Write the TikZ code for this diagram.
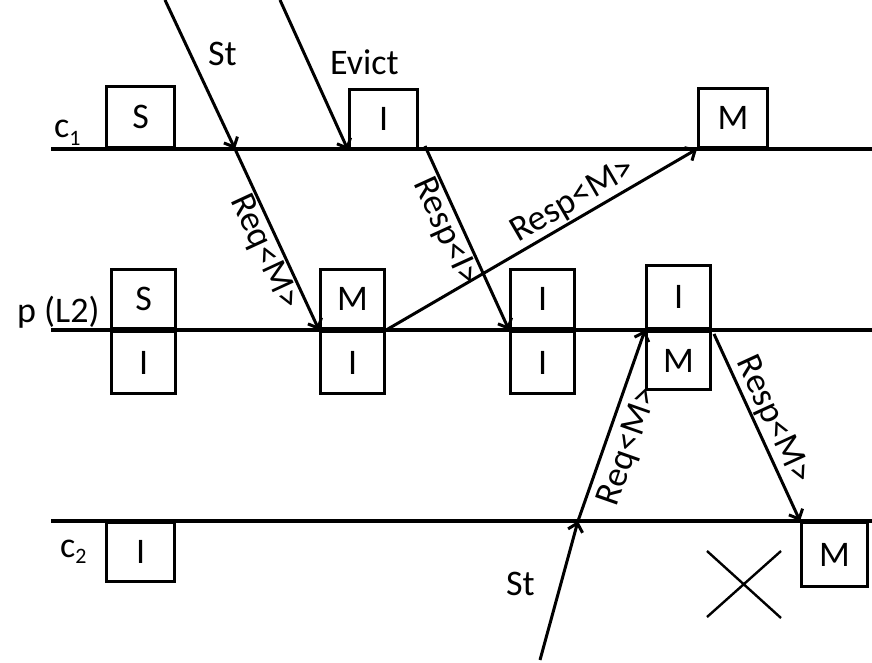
\documentclass[tikz,border=0pt]{standalone}
\usepackage{fontspec}
\setmainfont{Carlito}
\usetikzlibrary{arrows.meta}
\begin{document}
\begin{tikzpicture}[x=1pt,y=-1pt,
  every node/.style={font=\fontsize{36}{40}\selectfont},
  cell/.style={draw, line width=3.2pt, inner sep=0pt, minimum width=64pt},
  lane/.style={line width=3.2pt},
  msg/.style={line width=3pt, -{Straight Barb[length=8pt,width=15pt,line width=3pt]}},
  lbl/.style={sloped, inner sep=1.5pt},
  cross/.style={line width=2.4pt}]
\useasboundingbox[fill=white] (0,0) rectangle (872,662);

% lanes
\coordinate (c1a) at (51,149);  \coordinate (c1b) at (872,149);
\coordinate (pa)  at (51,330);  \coordinate (pb)  at (872,330);
\coordinate (c2a) at (51,521);  \coordinate (c2b) at (872,521);
\draw[lane] (c1a) -- (c1b);
\draw[lane] (pa) -- (pb);
\draw[lane] (c2a) -- (c2b);

% lane labels
\node[anchor=base west, inner sep=0pt] (c1lbl) at (54,137) {c\raisebox{-8pt}{\fontsize{22}{24}\selectfont 1}};
\node[anchor=base west, inner sep=0pt] (plbl) at (17,322) {p (L2)};
\node[anchor=base west, inner sep=0pt] (c2lbl) at (60,557) {c\raisebox{-6pt}{\fontsize{22}{24}\selectfont 2}};

% c1 boxes
\node[cell, minimum width=68pt, minimum height=61pt, anchor=south west] (c1S) at (105,149) {S};
\node[cell, minimum width=68pt, minimum height=59pt, anchor=south west] (c1I) at (348,150) {I};
\node[cell, minimum width=69pt, minimum height=59pt, anchor=south west] (c1M) at (697,149) {M};

% p boxes
\node[cell, minimum height=59pt, anchor=south west] (pSu) at (110,330) {S};
\node[cell, minimum height=62pt, anchor=north west] (pSl) at (110,330) {I};
\node[cell, minimum height=59pt, anchor=south west] (pMu) at (319,330) {M};
\node[cell, minimum height=62pt, anchor=north west] (pMl) at (319,330) {I};
\node[cell, minimum height=59pt, anchor=south west] (pIu) at (509,330) {I};
\node[cell, minimum height=62pt, anchor=north west] (pIl) at (509,330) {I};
\node[cell, minimum height=63pt, anchor=south west] (pXu) at (645,330) {I};
\node[cell, minimum height=58pt, anchor=north west] (pXl) at (645,330) {M};

% c2 boxes
\node[cell, minimum width=68pt, minimum height=59pt, anchor=north west] (c2I) at (105,521) {I};
\node[cell, minimum width=66pt, minimum height=64pt, anchor=north west] (c2M) at (800,521) {M};

% free ends of messages
\coordinate (st1top) at (165,0);
\coordinate (st1hit) at (235,149);
\coordinate (evtop) at (280,0);
\coordinate (respIstart) at (425,146);
\coordinate (st2bot) at (540,660);
\coordinate (st2hit) at (578,521);
\coordinate (respM2start) at (714,334);

% messages
\draw[msg] (st1top) -- (st1hit);
\node[anchor=base west, inner sep=0pt] (st1lbl) at (208,65) {St};
\draw[msg] (st1hit) -- node[lbl, below, pos=0.53] (req1lbl) {Req<M>} (pMu.south west);
\draw[msg] (evtop) -- (c1I.south west);
\node[anchor=base west, inner sep=0pt] (evlbl) at (330,74) {Evict};
\draw[msg] (respIstart) -- node[lbl, below, pos=0.43] (respIlbl) {Resp<I>} (pIu.south west);
\draw[msg] (pMu.south east) -- node[lbl, above, pos=0.63] (respM1lbl) {Resp<M>} (c1M.south west);
\draw[msg] (st2bot) -- (st2hit);
\node[anchor=base west, inner sep=0pt] (st2lbl) at (506,595) {St};
\draw[msg] (st2hit) -- node[lbl, below=6pt, pos=0.43] (req2lbl) {Req<M>} (pXu.south west);
\draw[msg] (respM2start) -- node[lbl, above, pos=0.5] (respM2lbl) {Resp<M>} (c2M.north west);

% cross
\draw[cross] (707,551) -- (781,618);
\draw[cross] (707,617) -- (781,551);
\end{tikzpicture}
\end{document}
